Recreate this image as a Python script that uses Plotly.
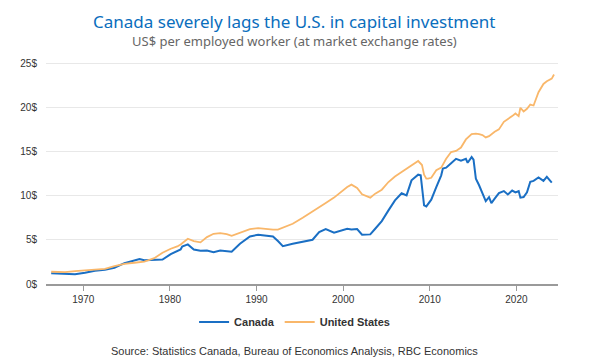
import plotly.graph_objects as go

canada_x = [1966.3, 1967.9, 1969.05, 1970.2, 1971.35, 1972.5, 1973.6, 1974.75, 1975.9, 1976.5,
            1977.05, 1978.2, 1979.15, 1980.1, 1980.5, 1980.85, 1981.24, 1981.42, 1982.07, 1982.76,
            1983.53, 1984.28, 1985.04, 1985.81, 1986.56, 1987.13, 1988.09, 1989.24, 1990.19, 1991.13,
            1991.9, 1992.47, 1993.04, 1994.18, 1995.33, 1996.47, 1997.23, 1997.99, 1998.95, 1999.9,
            2000.47, 2000.96, 2001.61, 2002.18, 2003.13, 2003.7, 2004.46, 2005.23, 2005.98, 2006.75,
            2007.32, 2007.89, 2008.66, 2008.95, 2009.34, 2009.6, 2010.17, 2010.75, 2011.32, 2011.51,
            2011.89, 2012.46, 2013.03, 2013.6, 2014.17, 2014.37, 2014.83, 2015.05, 2015.32, 2015.69,
            2016.08, 2016.46, 2016.84, 2017.11, 2017.49, 2017.98, 2018.55, 2019.01, 2019.51, 2019.89,
            2020.26, 2020.46, 2020.83, 2021.22, 2021.6, 2021.98, 2022.55, 2023.12, 2023.51, 2024.08]
canada_y = [1.23, 1.19, 1.10, 1.27, 1.50, 1.61, 1.84, 2.36, 2.63, 2.82,
            2.70, 2.75, 2.78, 3.39, 3.60, 3.80, 3.92, 4.26, 4.49, 3.92,
            3.77, 3.80, 3.61, 3.80, 3.69, 3.66, 4.56, 5.40, 5.59, 5.47,
            5.40, 4.87, 4.30, 4.56, 4.80, 5.02, 5.89, 6.23, 5.82, 6.08,
            6.27, 6.19, 6.23, 5.59, 5.63, 6.27, 7.14, 8.35, 9.49, 10.30,
            10.06, 11.76, 12.40, 12.33, 8.92, 8.80, 9.57, 11.00, 12.33, 13.10,
            13.20, 13.70, 14.20, 14.00, 14.20, 13.75, 14.40, 14.10, 11.95, 11.20,
            10.25, 9.41, 9.86, 9.18, 9.68, 10.31, 10.54, 10.16, 10.60, 10.40,
            10.54, 9.79, 9.86, 10.40, 11.60, 11.70, 12.08, 11.70, 12.15, 11.50]

us_x = [1966.3, 1967.9, 1969.05, 1970.2, 1971.35, 1972.5, 1973.6, 1974.75, 1975.9, 1977.05,
        1978.2, 1979.15, 1980.1, 1980.85, 1981.24, 1981.42, 1982.07, 1982.76, 1983.53, 1984.28,
        1985.04, 1985.81, 1986.56, 1987.13, 1988.09, 1989.24, 1990.19, 1991.13, 1991.9, 1992.47,
        1993.04, 1994.18, 1995.33, 1996.47, 1997.23, 1997.99, 1998.95, 1999.9, 2000.47, 2000.96,
        2001.61, 2002.18, 2003.13, 2003.7, 2004.46, 2005.23, 2005.98, 2006.75, 2007.89, 2008.66,
        2009.1, 2009.34, 2009.6, 2009.8, 2010.17, 2010.75, 2011.32, 2011.89, 2012.46, 2013.03,
        2013.6, 2014.17, 2014.83, 2015.32, 2015.69, 2016.08, 2016.46, 2016.84, 2017.49, 2017.98,
        2018.55, 2019.01, 2019.51, 2019.89, 2020.26, 2020.46, 2020.83, 2021.22, 2021.6, 2021.98,
        2022.55, 2023.12, 2023.51, 2024.08, 2024.34]
us_y = [1.39, 1.34, 1.46, 1.57, 1.64, 1.72, 2.03, 2.29, 2.41, 2.55,
        2.93, 3.55, 4.00, 4.26, 4.49, 4.64, 5.13, 4.87, 4.72, 5.32,
        5.70, 5.78, 5.66, 5.47, 5.81, 6.23, 6.34, 6.23, 6.16, 6.16,
        6.39, 6.84, 7.52, 8.20, 8.66, 9.18, 9.80, 10.55, 11.00, 11.27,
        10.89, 10.17, 9.80, 10.25, 10.70, 11.57, 12.20, 12.70, 13.47, 13.95,
        13.50, 12.40, 11.95, 11.95, 12.05, 12.90, 13.20, 14.20, 14.97, 15.10,
        15.48, 16.40, 17.00, 17.07, 17.00, 16.90, 16.63, 16.78, 17.27, 17.54,
        18.40, 18.67, 19.05, 19.35, 19.05, 20.00, 19.58, 19.88, 20.36, 20.25,
        21.76, 22.70, 23.00, 23.30, 23.77]

y_ticks = [0, 5, 10, 15, 20, 25]
y_tick_labels = ["0$", "5$", "10$", "15$", "20$", "25$"]
x_ticks = [1970, 1980, 1990, 2000, 2010, 2020]

title_text = "Canada severely lags the U.S. in capital investment"
subtitle_text = "US$ per employed worker (at market exchange rates)"
source_text = "Source: Statistics Canada, Bureau of Economics Analysis, RBC Economics"

# page body has an 8px margin: work in screen coordinates and shift
OFF = 8
W, H = 604 - OFF, 363 - OFF
ML, MT = 41 - OFF, 61 - OFF
MR = W - (558 - OFF)
MB = H - (284 - OFF)
PW, PH = W - ML - MR, H - MT - MB


def px(x):
    return (x - OFF - ML) / PW


def py(y):
    return (H - MB - (y - OFF)) / PH


fig = go.Figure()
fig.add_trace(go.Scatter(x=canada_x, y=canada_y, mode="lines", name="Canada",
                         line=dict(color="#1a6fc4", width=2)))
fig.add_trace(go.Scatter(x=us_x, y=us_y, mode="lines", name="United States",
                         line=dict(color="#f9b76a", width=1.8)))

fig.update_layout(
    width=W, height=H,
    margin=dict(l=ML, r=MR, t=MT, b=MB),
    paper_bgcolor="white", plot_bgcolor="white",
    showlegend=True,
    legend=dict(orientation="h", x=px(292), xanchor="center", y=py(322), yanchor="middle",
                font=dict(family="Liberation Sans", size=11, color="#333", weight="bold"),
                itemwidth=30, tracegroupgap=0),
    font=dict(family="Liberation Sans", size=10, color="#333"),
)
fig.update_xaxes(range=[1965.7, 2024.8], tickvals=x_ticks, showgrid=False,
                 showline=True, linecolor="#9a9a9a", linewidth=1.5,
                 ticks="outside", ticklen=5, tickcolor="#9a9a9a",
                 tickfont=dict(family="Liberation Sans", size=10, color="#333"), zeroline=False)
fig.update_yaxes(range=[0, 25.3], tickvals=y_ticks, ticktext=y_tick_labels,
                 showgrid=True, gridcolor="#e8e8e8", gridwidth=1,
                 zeroline=False, showline=False, ticklabelstandoff=8,
                 tickfont=dict(family="Liberation Sans", size=10, color="#333"))

fig.add_annotation(text=title_text, xref="paper", yref="paper", x=px(292),
                   xanchor="center", y=py(9), yanchor="top", showarrow=False,
                   borderpad=0,
                   font=dict(family="Noto Sans", size=17, color="#0a6ebd"))
fig.add_annotation(text=subtitle_text, xref="paper", yref="paper", x=px(292),
                   xanchor="center", y=py(41), yanchor="middle", showarrow=False,
                   font=dict(family="Noto Sans", size=13, color="#666"))
fig.add_annotation(text=source_text, xref="paper", yref="paper", x=px(292),
                   xanchor="center", y=py(351), yanchor="middle", showarrow=False,
                   font=dict(family="Liberation Sans", size=11, color="#333"))

fig.write_html("out.html")
